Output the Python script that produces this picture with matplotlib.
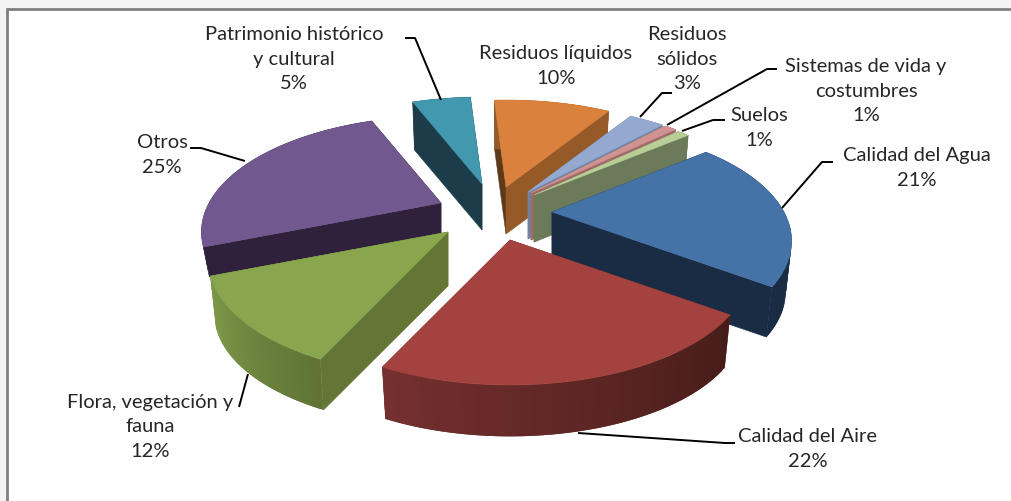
import numpy as np
import matplotlib
matplotlib.use("Agg")
import matplotlib.pyplot as plt
from matplotlib.colors import to_rgb
from matplotlib.patches import Polygon, Rectangle

categories = ["Calidad del Agua", "Calidad del Aire", "Flora, vegetación y\nfauna", "Otros",
              "Patrimonio histórico\ny cultural", "Residuos líquidos", "Residuos\nsólidos",
              "Sistemas de vida y\ncostumbres", "Suelos"]
values = [21, 22, 12, 25, 5, 10, 3, 1, 1]

# style and layout, one entry per slice
top_colors = ["#4572A7", "#A4423F", "#89A54E", "#71588F", "#4198AF", "#DA813D", "#93A9CF", "#D19392", "#B9CD96"]
radial_colors = ["#1A2C44", "#6E2B2B", "#637635", "#2F213C", "#1B3C48", "#955A28", "#6F83A3", "#A06A6A", "#6B7A58"]
radial_left = ["#1A2C44", "#6E2B2B", "#637635", "#2F213C", "#1B3C48", "#5C3A1A", "#6F83A3", "#A06A6A", "#6B7A58"]
arc_light = ["#1A2C44", "#74302E", "#809B4B", "#2F213C", "#1B3C48", "#955A28", "#6F83A3", "#A06A6A", "#6B7A58"]
arc_dark = ["#1A2C44", "#461C19", "#5F7435", "#2F213C", "#1B3C48", "#955A28", "#6F83A3", "#A06A6A", "#6B7A58"]
apexes = [(552, 212), (510, 240), (448, 232), (441, 203), (482, 184), (506, 187), (528, 192), (531, 193), (534, 195)]
depths = [52, 55, 54, 31, 46, 47, 47, 47, 47]
draw_order = [4, 5, 6, 7, 8, 3, 0, 2, 1]
label_centers = [(917, 168), (808, 449), (150, 427), (162, 155), (294, 59), (556, 66), (687, 59), (866, 91), (759, 128)]
leaders = [[(833, 162), (822, 162), (782, 208)],
           [(735, 443), (725, 443), (578, 433)],
           [(239, 407), (248, 374)],
           [(190, 148), (201, 148), (245, 161)],
           [(405, 38), (415, 38), (441, 100)],
           [],
           [(672, 93), (662, 93), (640, 117)],
           [(777, 69), (767, 69), (667, 125)],
           [(725, 120), (713, 120), (682, 131)]]
START = -39.6
RX, RY, PERSP = 232.0, 108.75, 0.25
FLARE = 0.975

plt.rcParams["font.family"] = ["Lato", "DejaVu Sans"]
fig = plt.figure(figsize=(10.11, 5.01), dpi=100, facecolor="#F3F3F3")
ax = fig.add_axes([0, 0, 1, 1])
ax.set_xlim(0, 1011)
ax.set_ylim(501, 0)
ax.axis("off")
ax.add_patch(Rectangle((7, 9), 1100, 600, facecolor="white", edgecolor="#808080", lw=2))


def project(theta_deg, apex):
    t = np.radians(theta_deg)
    s = 1.0 / (1.0 - PERSP * np.sin(t))
    return apex[0] + RX * np.cos(t) * s, apex[1] + RY * np.sin(t) * s


def fill(points, color, z, lw=0.4):
    ax.add_patch(Polygon(points, closed=True, facecolor=color, edgecolor=color if lw else "none", lw=lw, zorder=z))


spans = np.array(values) / sum(values) * 360.0
starts = START + np.concatenate([[0], np.cumsum(spans)[:-1]])

for order, i in enumerate(draw_order):
    z = 2 + order
    apex = apexes[i]
    d = depths[i]
    thetas = np.linspace(starts[i], starts[i] + spans[i], 60)
    xs, ys = project(thetas, apex)
    bx = apex[0] + (xs - apex[0]) * FLARE
    by = apex[1] + (ys - apex[1]) * FLARE + d
    base = (apex[0], apex[1] + d)
    # radial walls
    fill([apex, (xs[0], ys[0]), (bx[0], by[0]), base], radial_left[i], z)
    fill([apex, (xs[-1], ys[-1]), (bx[-1], by[-1]), base], radial_colors[i], z)
    # outer wall with a gradient along the arc, dark at the clockwise start
    c0 = np.array(to_rgb(arc_light[i]))
    c1 = np.array(to_rgb(arc_dark[i]))
    n = len(thetas)
    for k in range(n - 1):
        f = k / (n - 2)
        col = c1 + (c0 - c1) * f
        j = min(k + 2, n - 1)
        fill([(xs[k], ys[k]), (xs[j], ys[j]), (bx[j], by[j]), (bx[k], by[k])], col, z, lw=0)
    # top face
    fill([apex] + list(zip(xs, ys)), top_colors[i], z)

for pts in leaders:
    if pts:
        ax.plot(*zip(*pts), color="black", lw=1.4, zorder=20, solid_capstyle="butt")

for name, v, (cx, cy) in zip(categories, values, label_centers):
    ax.text(cx, cy, f"{name}\n{v}%", ha="center", va="center", fontsize=14.5, color="#262626",
            linespacing=1.55, zorder=21)

fig.savefig("out.png", dpi=100, facecolor=fig.get_facecolor())
